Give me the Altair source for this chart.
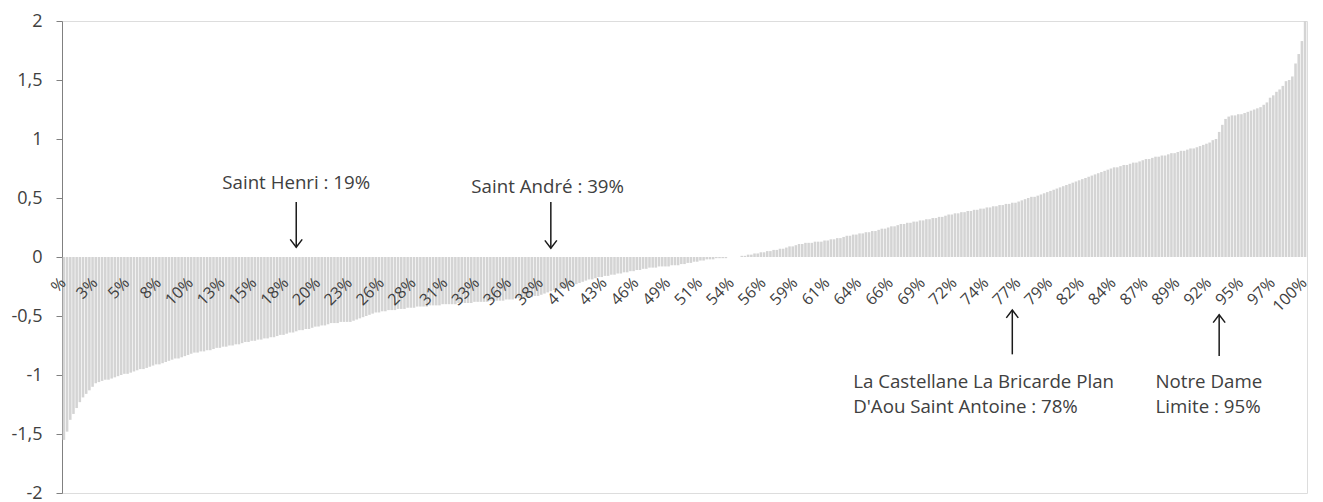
import altair as alt
import pandas as pd

# ---- data (sorted ascending) ----
values = [
    -1.55, -1.48, -1.38, -1.33, -1.28, -1.23, -1.19, -1.16, -1.13, -1.10,
    -1.07, -1.06, -1.05, -1.04, -1.04, -1.03, -1.02, -1.01, -1.00, -0.99,
    -0.99, -0.98, -0.97, -0.96, -0.95, -0.95, -0.94, -0.93, -0.92, -0.91,
    -0.91, -0.90, -0.89, -0.88, -0.87, -0.86, -0.86, -0.85, -0.84, -0.83,
    -0.82, -0.81, -0.81, -0.80, -0.80, -0.79, -0.79, -0.78, -0.77, -0.77,
    -0.76, -0.76, -0.75, -0.75, -0.74, -0.74, -0.73, -0.72, -0.72, -0.71,
    -0.71, -0.70, -0.70, -0.69, -0.69, -0.68, -0.68, -0.67, -0.66, -0.66,
    -0.65, -0.64, -0.64, -0.63, -0.62, -0.62, -0.61, -0.61, -0.60, -0.59,
    -0.59, -0.58, -0.58, -0.57, -0.56, -0.56, -0.56, -0.55, -0.55, -0.55,
    -0.55, -0.54, -0.53, -0.52, -0.51, -0.50, -0.49, -0.48, -0.47, -0.47,
    -0.46, -0.46, -0.45, -0.45, -0.45, -0.44, -0.44, -0.44, -0.43, -0.43,
    -0.43, -0.42, -0.42, -0.42, -0.42, -0.41, -0.41, -0.41, -0.41, -0.40,
    -0.40, -0.40, -0.40, -0.40, -0.39, -0.39, -0.39, -0.39, -0.39, -0.38,
    -0.38, -0.38, -0.38, -0.38, -0.37, -0.37, -0.37, -0.37, -0.37, -0.36,
    -0.36, -0.36, -0.35, -0.35, -0.35, -0.34, -0.34, -0.34, -0.33, -0.33,
    -0.32, -0.31, -0.30, -0.29, -0.28, -0.27, -0.27, -0.26, -0.25, -0.24,
    -0.23, -0.23, -0.22, -0.21, -0.20, -0.19, -0.19, -0.18, -0.17, -0.17,
    -0.16, -0.16, -0.15, -0.15, -0.14, -0.14, -0.13, -0.13, -0.12, -0.12,
    -0.11, -0.11, -0.10, -0.10, -0.09, -0.09, -0.09, -0.08, -0.08, -0.08,
    -0.08, -0.07, -0.07, -0.07, -0.06, -0.06, -0.05, -0.05, -0.04, -0.04,
    -0.03, -0.03, -0.02, -0.02, -0.02, -0.01, -0.01, -0.01, -0.01, 0.00,
    0.00, 0.00, 0.00, 0.01, 0.01, 0.02, 0.02, 0.03, 0.03, 0.04,
    0.04, 0.05, 0.05, 0.06, 0.06, 0.07, 0.07, 0.08, 0.09, 0.09,
    0.10, 0.11, 0.11, 0.12, 0.12, 0.12, 0.13, 0.13, 0.13, 0.14,
    0.14, 0.15, 0.15, 0.16, 0.16, 0.17, 0.18, 0.18, 0.19, 0.19,
    0.20, 0.20, 0.21, 0.21, 0.22, 0.22, 0.23, 0.24, 0.24, 0.25,
    0.26, 0.26, 0.27, 0.28, 0.28, 0.29, 0.29, 0.30, 0.30, 0.31,
    0.31, 0.32, 0.32, 0.33, 0.33, 0.34, 0.34, 0.35, 0.36, 0.36,
    0.37, 0.37, 0.38, 0.38, 0.39, 0.39, 0.40, 0.40, 0.41, 0.41,
    0.42, 0.42, 0.43, 0.43, 0.44, 0.44, 0.45, 0.45, 0.46, 0.46,
    0.47, 0.48, 0.49, 0.50, 0.51, 0.51, 0.52, 0.53, 0.54, 0.55,
    0.56, 0.57, 0.58, 0.59, 0.60, 0.61, 0.62, 0.63, 0.64, 0.65,
    0.66, 0.67, 0.68, 0.69, 0.70, 0.71, 0.72, 0.73, 0.74, 0.75,
    0.76, 0.76, 0.77, 0.78, 0.78, 0.79, 0.80, 0.80, 0.81, 0.82,
    0.83, 0.83, 0.84, 0.85, 0.85, 0.86, 0.86, 0.87, 0.88, 0.88,
    0.89, 0.90, 0.90, 0.91, 0.92, 0.92, 0.93, 0.94, 0.95, 0.96,
    0.97, 0.99, 1.00, 1.06, 1.12, 1.17, 1.19, 1.20, 1.20, 1.21,
    1.21, 1.22, 1.23, 1.24, 1.25, 1.26, 1.27, 1.29, 1.31, 1.35,
    1.37, 1.40, 1.42, 1.45, 1.49, 1.50, 1.53, 1.64, 1.72, 1.83,
    2.00,
]

tick_labels = [
    "%", "3%", "5%", "8%", "10%", "13%", "15%", "18%", "20%", "23%",
    "26%", "28%", "31%", "33%", "36%", "38%", "41%", "43%", "46%", "49%",
    "51%", "54%", "56%", "59%", "61%", "64%", "66%", "69%", "72%", "74%",
    "77%", "79%", "82%", "84%", "87%", "89%", "92%", "95%", "97%", "100%",
]
tick_index = list(range(0, len(values), 10))

y_ticks = [-2, -1.5, -1, -0.5, 0, 0.5, 1, 1.5, 2]

# annotations
center_text = ["Saint Henri : 19%", "Saint André : 39%"]
center_index = [73, 152]
center_y = [0.625, 0.59]

left_text = ["La Castellane La Bricarde Plan", "D'Aou Saint Antoine : 78%",
             "Notre Dame", "Limite : 95%"]
left_index = [248, 248, 343, 343]
left_y = [-1.06, -1.27, -1.06, -1.27]

arrow_index = [73, 153, 298, 363]
arrow_from = [0.467, 0.467, -0.825, -0.84]   # tail end
arrow_to = [0.083, 0.075, -0.45, -0.49]      # tip end
arrow_dir = ["down", "down", "up", "up"]

FONT = "Open Sans"
TEXT_COLOR = "#404040"

bars_df = pd.DataFrame({"i": list(range(len(values))), "v": values})
ticks_df = pd.DataFrame({"i": tick_index, "lab": tick_labels})
ctext_df = pd.DataFrame({"i": center_index, "y": center_y, "t": center_text})
ltext_df = pd.DataFrame({"i": left_index, "y": left_y, "t": left_text})
arrows_df = pd.DataFrame({"i": arrow_index, "y1": arrow_from, "y2": arrow_to, "d": arrow_dir})

x_enc = alt.X("i:O", scale=alt.Scale(domain=list(range(len(values))),
                                      paddingInner=0.2, paddingOuter=0.2),
              axis=None)
y_scale = alt.Scale(domain=[-2, 2], nice=False, zero=False)

bars = alt.Chart(bars_df).mark_bar(color="#d4d4d4").encode(
    x=x_enc,
    y=alt.Y("v:Q", scale=y_scale, title=None,
            axis=alt.Axis(values=y_ticks, grid=False,
                          labelExpr="replace(toString(datum.value), '.', ',')",
                          domainColor="#808080", tickColor="#808080",
                          tickSize=6, labelPadding=14,
                          labelFont=FONT, labelFontSize=18,
                          labelColor=TEXT_COLOR)),
)

xlabels = alt.Chart(ticks_df).mark_text(
    angle=315, align="right", baseline="middle", dx=-17, dy=16,
    font=FONT, fontSize=16, color=TEXT_COLOR,
).encode(x=alt.X("i:O"), y=alt.datum(0), text="lab:N")

ctext = alt.Chart(ctext_df).mark_text(
    align="center", baseline="middle", font=FONT, fontSize=18.7, color=TEXT_COLOR,
).encode(x=alt.X("i:O"), y=alt.Y("y:Q"), text="t:N")

ltext = alt.Chart(ltext_df).mark_text(
    align="left", baseline="middle", font=FONT, fontSize=18.7, color=TEXT_COLOR,
).encode(x=alt.X("i:O"), y=alt.Y("y:Q"), text="t:N")

shafts = alt.Chart(arrows_df).mark_rule(color="#1a1a1a", strokeWidth=1.5).encode(
    x=alt.X("i:O"), y=alt.Y("y1:Q"), y2="y2:Q",
)

heads = alt.Chart(arrows_df).mark_point(
    filled=False, color="#1a1a1a", strokeWidth=1.5, size=144, opacity=1,
).encode(
    x=alt.X("i:O"), y=alt.Y("y2:Q"),
    shape=alt.Shape("d:N", legend=None,
                    scale=alt.Scale(domain=["down", "up"],
                                    range=["M-1,-1.3L0,0L1,-1.3", "M-1,1.3L0,0L1,1.3"])),
)

chart = alt.layer(bars, xlabels, ctext, ltext, shafts, heads).properties(
    width=1245, height=472,
    autosize=alt.AutoSizeParams(type="none"),
    padding={"left": 54, "top": 13, "right": 8, "bottom": 9},
).configure_view(stroke=None).configure(background="white")

chart.save("out.html", embed_options={"renderer": "svg", "actions": False})
